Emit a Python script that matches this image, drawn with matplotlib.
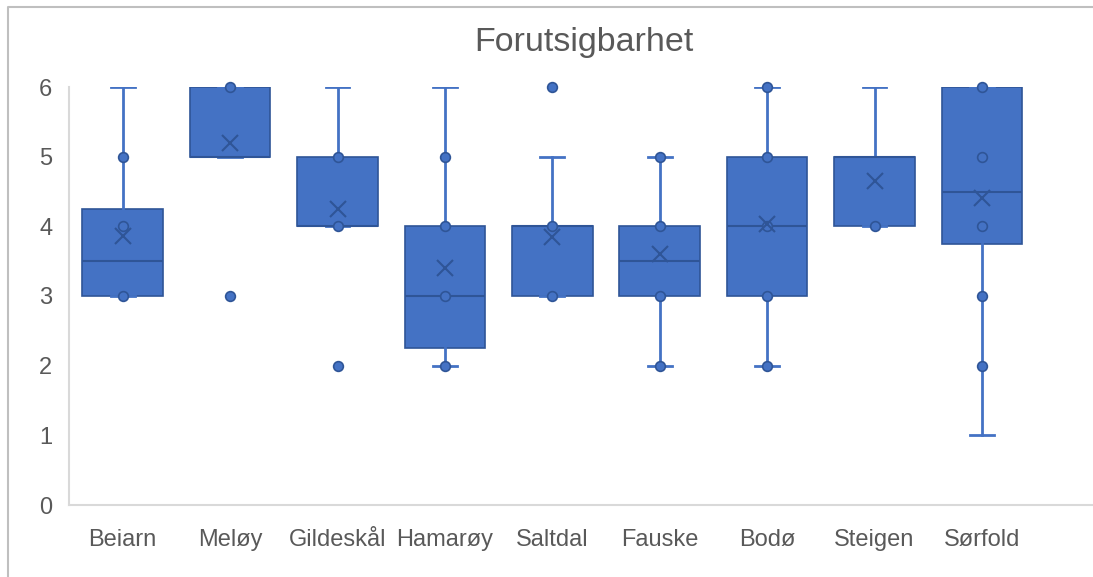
import matplotlib
matplotlib.use("Agg")
import matplotlib.pyplot as plt
from matplotlib.lines import Line2D

plt.rcParams['font.family'] = ['Liberation Sans', 'DejaVu Sans']

# summary values
categories = ["Beiarn", "Meløy", "Gildeskål", "Hamarøy", "Saltdal",
              "Fauske", "Bodø", "Steigen", "Sørfold"]
q1 = [3, 5, 4, 2.25, 3, 3, 3, 4, 3.75]
medians = [3.5, 5, 4, 3, 4, 3.5, 4, 5, 4.5]
q3 = [4.25, 6, 5, 4, 4, 4, 5, 5, 6]
whislo = [3, 5, 4, 2, 3, 2, 2, 4, 1]
whishi = [6, 6, 6, 6, 5, 5, 6, 6, 6]
means = [3.86, 5.2, 4.25, 3.4, 3.85, 3.6, 4.03, 4.65, 4.41]
points = [[3, 4, 5], [3, 6], [2, 4, 5], [2, 3, 4, 5], [3, 4, 6],
          [2, 3, 4, 5], [2, 3, 4, 5, 6], [4], [2, 3, 4, 5, 6]]

fill = '#4472C4'
dark = '#2F5597'
grey = '#595959'

W, H = 1093, 577
fig = plt.figure(figsize=(W / 100, H / 100), dpi=100)
ax = fig.add_axes([69 / W, (H - 505) / H, (W - 69) / W, (505 - 87) / H])

stats = []
for i in range(len(categories)):
    stats.append({
        'label': categories[i],
        'q1': q1[i], 'med': medians[i], 'q3': q3[i],
        'whislo': whislo[i], 'whishi': whishi[i],
        'mean': means[i], 'fliers': [],
    })

pos = list(range(1, len(categories) + 1))
ax.bxp(stats, positions=pos, widths=0.75, capwidths=0.22,
       patch_artist=True, showmeans=False, showfliers=False,
       boxprops=dict(facecolor=fill, edgecolor=dark, linewidth=1.2),
       medianprops=dict(color=dark, linewidth=1.5),
       whiskerprops=dict(color=fill, linewidth=2),
       capprops=dict(color=fill, linewidth=2))

for i, pts in enumerate(points):
    ax.plot([pos[i]] * len(pts), pts, 'o', ms=7, mfc=fill, mec=dark,
            mew=1.2, zorder=4, clip_on=False)

ax.plot(pos, means, 'x', ms=12, mew=1.5, color=dark, zorder=5,
        linestyle='none')

ax.set_xlim(0.5, 0.5 + (W - 69) / 107.4)
ax.set_ylim(0, 6)
ax.set_yticks(range(0, 7))
ax.set_xticks(pos)
ax.set_xticklabels(categories)
ax.tick_params(length=0, labelsize=17, labelcolor=grey)
ax.tick_params(axis='y', pad=12)
ax.tick_params(axis='x', pad=17)
for s in ['top', 'right']:
    ax.spines[s].set_visible(False)
for s in ['left', 'bottom']:
    ax.spines[s].set_color('#D9D9D9')
    ax.spines[s].set_linewidth(1.5)

fig.text(583.5 / W, 1 - 42 / H, "Forutsigbarhet", ha='center', va='center',
         fontsize=24.5, color=grey)

# outer chart border
fig.add_artist(Line2D([8 / W, 8 / W, 1], [0, 1 - 7 / H, 1 - 7 / H],
                      color='#BFBFBF', linewidth=1.5))

fig.savefig("out.png", dpi=100)
